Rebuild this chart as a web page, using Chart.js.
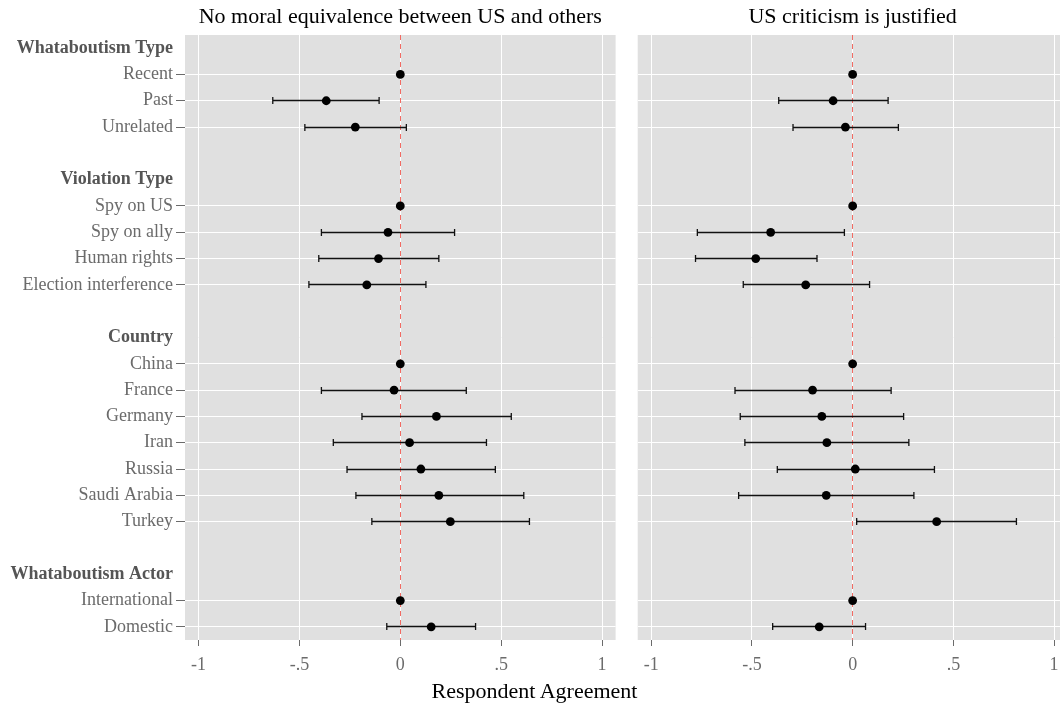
<!DOCTYPE html>
<html>
<head>
<meta charset="utf-8">
<script src="https://cdn.jsdelivr.net/npm/chart.js@4.4.1/dist/chart.umd.min.js"></script>
<style>
  html, body { margin: 0; padding: 0; background: #fff; overflow: hidden; }
  #wrap { position: relative; width: 1060px; height: 711px; overflow: hidden; }
  canvas { position: absolute; top: 0; }
  #xtitle {
    position: absolute; left: 0; width: 1069px; top: 678px;
    text-align: center; font: 22px "Liberation Serif", "DejaVu Serif", serif; color: #000;
  }
</style>
</head>
<body>
<div id="wrap">
  <canvas id="left" width="620" height="711" style="left:0"></canvas>
  <canvas id="right" width="452" height="711" style="left:620px"></canvas>
  <div id="xtitle">Respondent Agreement</div>
</div>
<script>
// rows of the y axis, top to bottom (blank = spacer row)
const rows = ["Whataboutism Type", "Recent", "Past", "Unrelated", "",
  "Violation Type", "Spy on US", "Spy on ally", "Human rights", "Election interference", " ",
  "Country", "China", "France", "Germany", "Iran", "Russia", "Saudi Arabia", "Turkey", "  ",
  "Whataboutism Actor", "International", "Domestic"];
const headers = ["Whataboutism Type", "Violation Type", "Country", "Whataboutism Actor"];

const terms = ["Recent", "Past", "Unrelated", "Spy on US", "Spy on ally", "Human rights",
  "Election interference", "China", "France", "Germany", "Iran", "Russia", "Saudi Arabia",
  "Turkey", "International", "Domestic"];

// No moral equivalence between US and others
const moralEst = [0, -0.367, -0.223, 0, -0.061, -0.108, -0.166, 0, -0.031, 0.179, 0.046, 0.102, 0.191, 0.248, 0, 0.153];
const moralLo = [null, -0.632, -0.473, null, -0.391, -0.404, -0.453, null, -0.391, -0.190, -0.332, -0.264, -0.220, -0.141, null, -0.067];
const moralHi = [null, -0.105, 0.030, null, 0.269, 0.191, 0.127, null, 0.327, 0.550, 0.427, 0.471, 0.612, 0.640, null, 0.373];

// US criticism is justified
const critEst = [0, -0.097, -0.036, 0, -0.407, -0.481, -0.233, 0, -0.199, -0.153, -0.128, 0.013, -0.131, 0.417, 0, -0.166];
const critLo = [null, -0.367, -0.296, null, -0.771, -0.780, -0.543, null, -0.584, -0.558, -0.535, -0.374, -0.566, 0.020, null, -0.397];
const critHi = [null, 0.176, 0.227, null, -0.041, -0.177, 0.084, null, 0.191, 0.253, 0.279, 0.406, 0.304, 0.813, null, 0.064];

const xTicks = [-1, -0.5, 0, 0.5, 1];
const xTickLabels = ["-1", "-.5", "0", ".5", "1"];

const serif = "'Liberation Serif', 'DejaVu Serif', serif";
const isGap = (label) => headers.includes(label) || label.trim() === "";

function makePanel(id, title, est, lo, hi, showY) {
  const panelPlugin = {
    id: "panel",
    beforeDraw(chart) {
      const { ctx, chartArea: a } = chart;
      ctx.save();
      ctx.fillStyle = "#e0e0e0";
      ctx.fillRect(a.left, a.top, a.right - a.left, a.bottom - a.top);
      ctx.restore();
    },
    beforeDatasetsDraw(chart) {
      const { ctx, chartArea: a, scales } = chart;
      const x = scales.x, y = scales.y;
      ctx.save();
      // zero reference line, aligned like the grid lines
      ctx.strokeStyle = "#f26b63";
      ctx.lineWidth = 1;
      ctx.setLineDash([5, 4]);
      const x0 = Math.round(x.getPixelForValue(0) - 0.5) + 0.5;
      ctx.beginPath();
      ctx.moveTo(x0, a.top);
      ctx.lineTo(x0, a.bottom);
      ctx.stroke();
      ctx.setLineDash([]);
      // error bars
      ctx.strokeStyle = "#111";
      ctx.lineWidth = 1.3;
      terms.forEach((t, i) => {
        if (lo[i] === null) return;
        const py = Math.round(y.getPixelForValue(rows.indexOf(t)) - 0.5) + 0.5;
        const xl = x.getPixelForValue(lo[i]);
        const xr = x.getPixelForValue(hi[i]);
        ctx.beginPath();
        ctx.moveTo(xl, py); ctx.lineTo(xr, py);
        ctx.moveTo(xl, py - 3.5); ctx.lineTo(xl, py + 3.5);
        ctx.moveTo(xr, py - 3.5); ctx.lineTo(xr, py + 3.5);
        ctx.stroke();
      });
      ctx.restore();
    }
  };

  return new Chart(document.getElementById(id), {
    type: "scatter",
    data: {
      labels: rows,
      datasets: [{
        data: terms.map((t, i) => ({ x: est[i], y: t })),
        backgroundColor: "#000",
        borderColor: "#000",
        pointRadius: 4.4,
        pointBorderWidth: 0,
      }],
    },
    options: {
      responsive: false,
      animation: false,
      layout: { padding: { left: 0, right: showY ? 1.7 : 1, top: 0, bottom: 0 } },
      plugins: {
        legend: { display: false },
        tooltip: { enabled: false },
        title: {
          display: true,
          text: title,
          fullSize: false,
          color: "#000",
          font: { family: serif, size: 22, weight: "normal" },
          padding: { top: 4, bottom: 4.6 },
        },
      },
      scales: {
        x: {
          type: "linear",
          min: -1.067,
          max: 1.067,
          afterBuildTicks: (scale) => { scale.ticks = xTicks.map((v) => ({ value: v })); },
          afterFit: (scale) => { scale.height = 71; },
          border: { display: false },
          grid: { color: "#fff", lineWidth: 1, tickColor: "#6b6b6b", tickLength: 6 },
          ticks: {
            color: "#6b6b6b",
            padding: 8,
            maxRotation: 0,
            font: { family: serif, size: 18 },
            callback: (v) => xTickLabels[xTicks.indexOf(v)],
          },
        },
        y: {
          type: "category",
          labels: rows,
          offset: true,
          afterFit: (scale) => { scale.width = showY ? 185 : 17.7; },
          border: { display: false },
          grid: {
            offset: false,
            lineWidth: 1,
            drawTicks: showY,
            tickLength: 9,
            color: (c) => isGap(rows[c.index] || "") ? "rgba(0,0,0,0)" : "#fff",
            tickColor: (c) => isGap(rows[c.index] || "") ? "rgba(0,0,0,0)" : "#6b6b6b",
          },
          ticks: {
            display: showY,
            autoSkip: false,
            padding: 3,
            color: (c) => headers.includes(rows[c.index]) ? "#555" : "#6b6b6b",
            font: (c) => ({
              family: serif,
              size: 18,
              weight: headers.includes(rows[c.index]) ? "bold" : "normal",
            }),
          },
        },
      },
    },
    plugins: [panelPlugin],
  });
}

makePanel("left", "No moral equivalence between US and others", moralEst, moralLo, moralHi, true);
makePanel("right", "US criticism is justified", critEst, critLo, critHi, false);
</script>
</body>
</html>
